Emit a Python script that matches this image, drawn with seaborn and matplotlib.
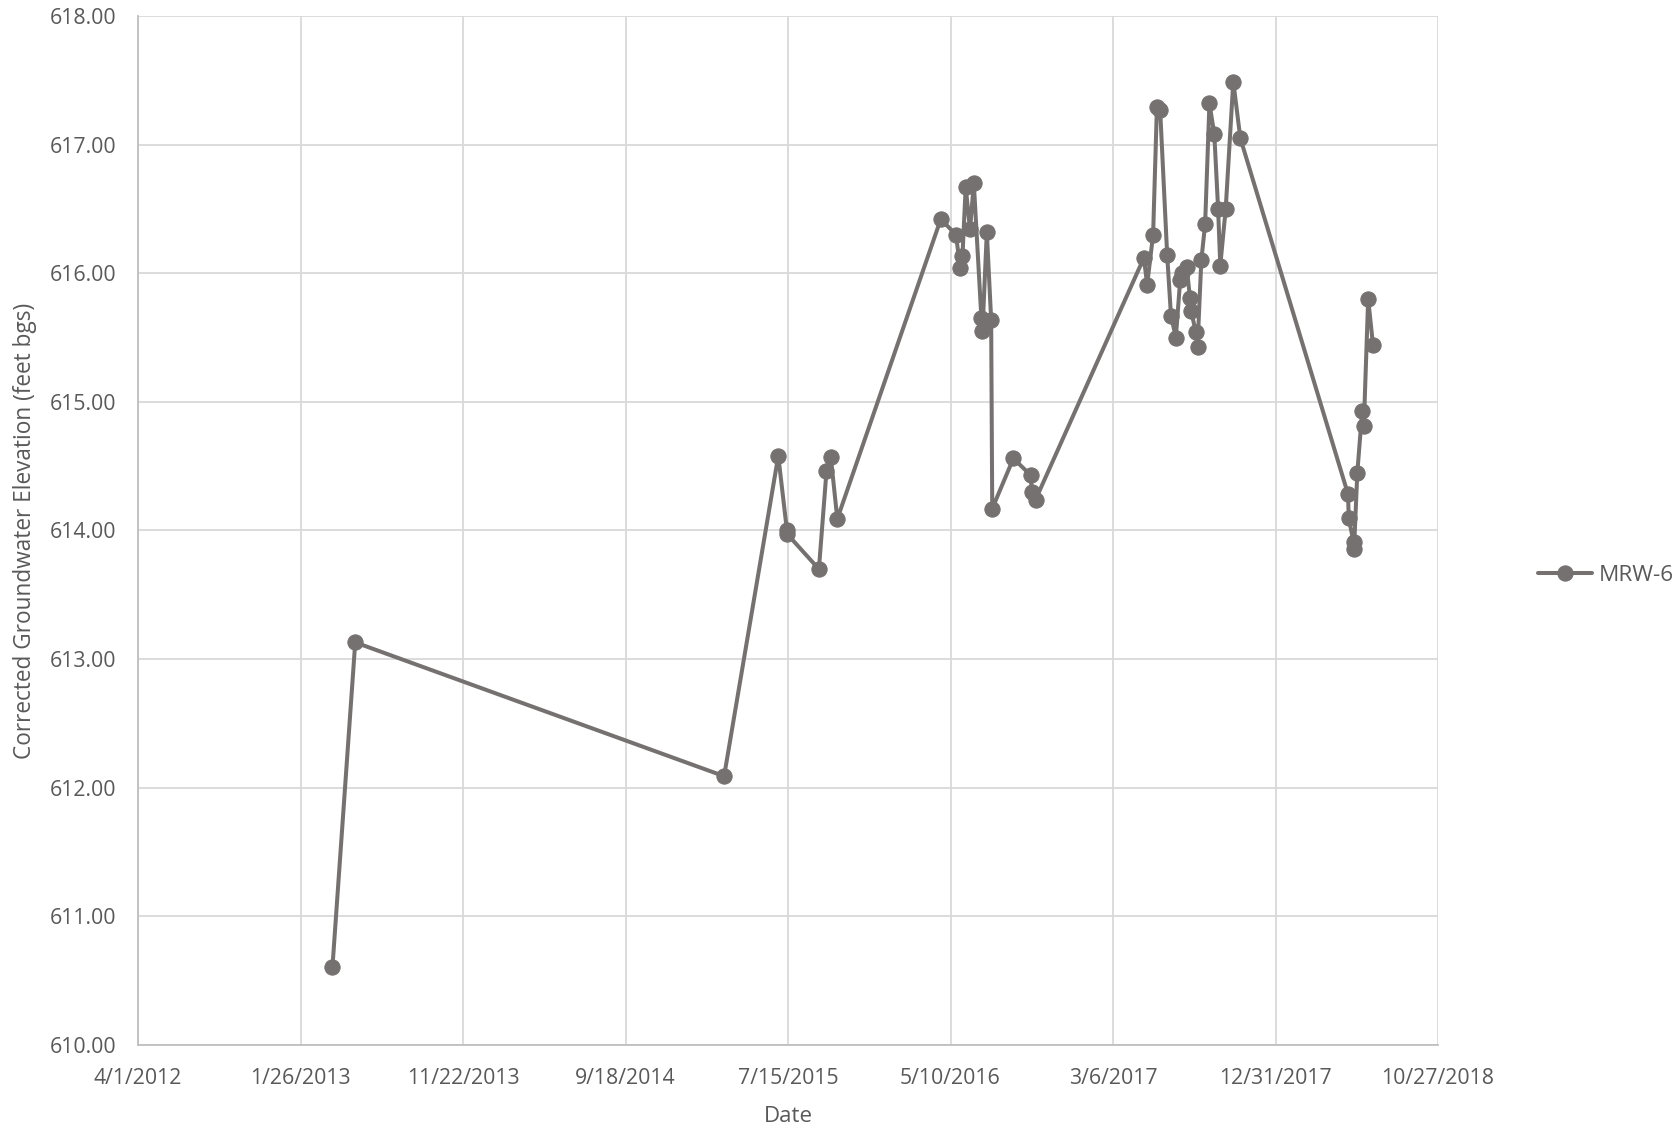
import pandas as pd
import matplotlib
matplotlib.use('Agg')
import matplotlib.pyplot as plt
import matplotlib.dates as mdates
from matplotlib.ticker import FixedLocator, FuncFormatter, MultipleLocator
import seaborn as sns

# Sampling dates and corrected groundwater elevations for MRW-6
dates = [
    '2013-03-26', '2013-05-07', '2015-03-19', '2015-06-27', '2015-07-13',
    '2015-07-14', '2015-09-10', '2015-09-24', '2015-10-02', '2015-10-14',
    '2016-04-22', '2016-05-20', '2016-05-28', '2016-06-01', '2016-06-07',
    '2016-06-15', '2016-06-22', '2016-07-06', '2016-07-08', '2016-07-16',
    '2016-07-24', '2016-07-26', '2016-09-03', '2016-10-05', '2016-10-07',
    '2016-10-14', '2017-05-02', '2017-05-08', '2017-05-19', '2017-05-26',
    '2017-06-01', '2017-06-14', '2017-06-21', '2017-06-30', '2017-07-08',
    '2017-07-12', '2017-07-20', '2017-07-26', '2017-07-28', '2017-08-06',
    '2017-08-09', '2017-08-16', '2017-08-23', '2017-08-31', '2017-09-09',
    '2017-09-16', '2017-09-20', '2017-09-30', '2017-10-14', '2017-10-27',
    '2018-05-14', '2018-05-15', '2018-05-24', '2018-05-25', '2018-05-31',
    '2018-06-09', '2018-06-12', '2018-06-20', '2018-06-29',
]
elevation = [
    610.61, 613.13, 612.09, 614.58, 614.00,
    613.97, 613.70, 614.46, 614.57, 614.09,
    616.42, 616.30, 616.04, 616.13, 616.67,
    616.34, 616.70, 615.65, 615.55, 616.32,
    615.64, 614.17, 614.56, 614.43, 614.30,
    614.24, 616.12, 615.91, 616.30, 617.29,
    617.27, 616.14, 615.67, 615.50, 615.95,
    616.00, 616.05, 615.81, 615.71, 615.54,
    615.43, 616.10, 616.38, 617.32, 617.08,
    616.50, 616.06, 616.50, 617.49, 617.05,
    614.28, 614.10, 613.91, 613.86, 614.45,
    614.93, 614.81, 615.80, 615.44,
]
x_ticks = ['2012-04-01', '2013-01-26', '2013-11-22', '2014-09-18', '2015-07-15',
           '2016-05-10', '2017-03-06', '2017-12-31', '2018-10-27']

df = pd.DataFrame({'Date': pd.to_datetime(dates), 'Elevation': elevation})

sns.set_style('white')
plt.rcParams['font.family'] = ['Open Sans', 'DejaVu Sans']

text_color = '#595959'
line_color = '#767171'

fig = plt.figure(figsize=(16.77, 11.31), dpi=100)
ax = fig.add_axes([0.0823, 0.076, 0.7752, 0.9099])

sns.lineplot(data=df, x='Date', y='Elevation', ax=ax, sort=False,
             color=line_color, linewidth=2.9, marker='o', markersize=11,
             markeredgecolor=line_color, markerfacecolor=line_color,
             label='MRW-6', legend=False)

tick_dates = [mdates.date2num(pd.Timestamp(d)) for d in x_ticks]
ax.set_xlim(tick_dates[0], tick_dates[-1])
ax.xaxis.set_major_locator(FixedLocator(tick_dates))
ax.xaxis.set_major_formatter(FuncFormatter(
    lambda v, p: '{d.month}/{d.day}/{d.year}'.format(d=mdates.num2date(v))))

ax.set_ylim(610, 618)
ax.yaxis.set_major_locator(MultipleLocator(1))
ax.yaxis.set_major_formatter(FuncFormatter(lambda v, p: f'{v:.2f}'))

ax.grid(True, color='#d9d9d9', linewidth=1.3)
ax.set_axisbelow(True)
for side in ['top', 'right']:
    ax.spines[side].set_visible(False)
for side in ['left', 'bottom']:
    ax.spines[side].set_color('#bfbfbf')
    ax.spines[side].set_linewidth(1.3)

ax.tick_params(axis='both', length=0, labelsize=15.3, colors=text_color)
ax.tick_params(axis='x', pad=16.5)
ax.tick_params(axis='y', pad=15.5)
ax.set_xlabel('Date', fontsize=16, color=text_color, labelpad=12)
ax.set_ylabel('Corrected Groundwater Elevation (feet bgs)', fontsize=16.3,
              color=text_color, labelpad=9)

handles, labels = ax.get_legend_handles_labels()
leg = fig.legend(handles, labels, loc='center left', bbox_to_anchor=(0.9052, 0.4916),
                 frameon=False, fontsize=16.2, handlelength=2.4, handletextpad=0.28)
for t in leg.get_texts():
    t.set_color(text_color)

fig.savefig('out.png', dpi=100)
